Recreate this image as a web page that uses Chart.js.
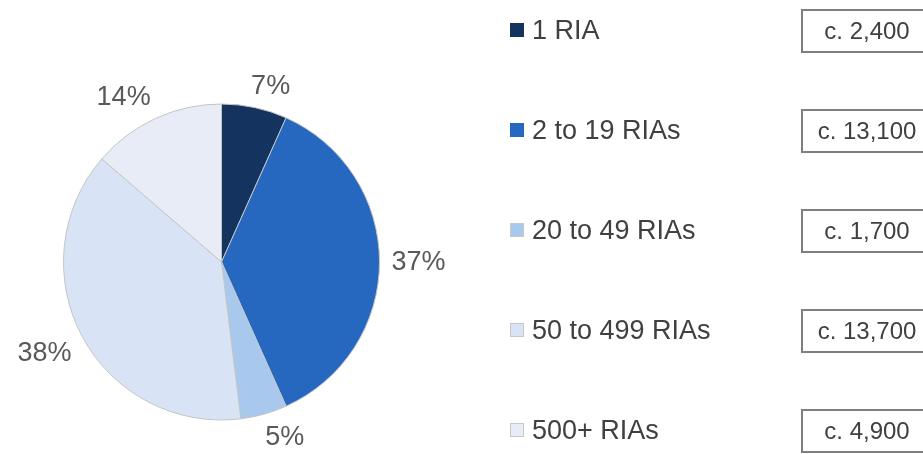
<!DOCTYPE html>
<html>

<head>
    <style>
        body {
            margin: 0;
            background: #fff;
        }
    </style>
    <title>RIA Firms Pie Chart</title>
</head>

<body>
    <div id="container" style="width: 923px; height: 454px;">
        <canvas id="canvas"></canvas>
    </div>
    <script src="https://cdn.jsdelivr.net/npm/chart.js@4.4.1/dist/chart.umd.min.js"></script>
    <script type="text/javascript">
        // chart data
        var categories = ['1 RIA', '2 to 19 RIAs', '20 to 49 RIAs', '50 to 499 RIAs', '500+ RIAs'];
        var firmCounts = [2400, 13100, 1700, 13700, 4900];
        var pctLabels = ['7%', '37%', '5%', '38%', '14%'];
        var countLabels = ['c. 2,400', 'c. 13,100', 'c. 1,700', 'c. 13,700', 'c. 4,900'];
        var sliceColors = ['#14335f', '#2667bf', '#a9c8ee', '#d8e4f5', '#e7ecf7'];

        var fontFamily = '"Liberation Sans", Arial, sans-serif';

        // percent labels outside each slice (excel style: box pushed away from an anchor ring)
        var pctLabelPlugin = {
            id: 'pctLabels',
            afterDatasetsDraw: function(chart) {
                var ctx = chart.ctx;
                var arcs = chart.getDatasetMeta(0).data;
                ctx.save();
                ctx.font = '27px ' + fontFamily;
                ctx.fillStyle = '#595959';
                ctx.textAlign = 'center';
                ctx.textBaseline = 'middle';
                arcs.forEach(function(arc, i) {
                    var mid = (arc.startAngle + arc.endAngle) / 2;
                    var cx = Math.cos(mid), cy = Math.sin(mid);
                    var w = ctx.measureText(pctLabels[i]).width;
                    var h = 21;
                    var ring = arc.outerRadius + 12;
                    var ox = Math.sign(cx) * w / 2 * Math.min(1, Math.abs(cx) / 0.3);
                    var oy = Math.sign(cy) * h / 2 * Math.min(1, Math.abs(cy) / 0.3);
                    ctx.fillText(pctLabels[i], arc.x + cx * ring + ox, arc.y + cy * ring + oy + 1);
                });
                ctx.restore();
            }
        };

        // legend with count boxes on the right
        var sideLegendPlugin = {
            id: 'sideLegend',
            afterDraw: function(chart) {
                var ctx = chart.ctx;
                ctx.save();
                categories.forEach(function(name, i) {
                    var yc = 30 + i * 100;
                    ctx.fillStyle = sliceColors[i];
                    ctx.fillRect(510, yc - 7, 14, 14);
                    if (i > 1) {
                        ctx.strokeStyle = '#c8c8c8';
                        ctx.lineWidth = 1;
                        ctx.strokeRect(510.5, yc - 6.5, 13, 13);
                    }
                    ctx.font = '27px ' + fontFamily;
                    ctx.fillStyle = '#404040';
                    ctx.textAlign = 'left';
                    ctx.textBaseline = 'middle';
                    ctx.fillText(name, 532, yc + 2);

                    ctx.strokeStyle = '#7f7f7f';
                    ctx.lineWidth = 2;
                    ctx.strokeRect(802, yc - 20, 140, 42);
                    ctx.font = '24px ' + fontFamily;
                    ctx.textAlign = 'center';
                    ctx.fillText(countLabels[i], 867, yc + 2);
                });
                ctx.restore();
            }
        };

        window.onload = function() {
            var ctx = document.getElementById('canvas').getContext('2d');
            window.myPie = new Chart(ctx, {
                type: 'pie',
                data: {
                    labels: categories,
                    datasets: [{
                        data: firmCounts,
                        backgroundColor: sliceColors,
                        borderColor: '#c4c4c4',
                        borderWidth: 1
                    }]
                },
                options: {
                    responsive: true,
                    maintainAspectRatio: false,
                    animation: false,
                    layout: {
                        padding: {
                            left: 63,
                            right: 543,
                            top: 103,
                            bottom: 33
                        }
                    },
                    plugins: {
                        legend: {
                            display: false
                        },
                        tooltip: {
                            enabled: false
                        }
                    }
                },
                plugins: [pctLabelPlugin, sideLegendPlugin]
            });
        };
    </script>
</body>

</html>
